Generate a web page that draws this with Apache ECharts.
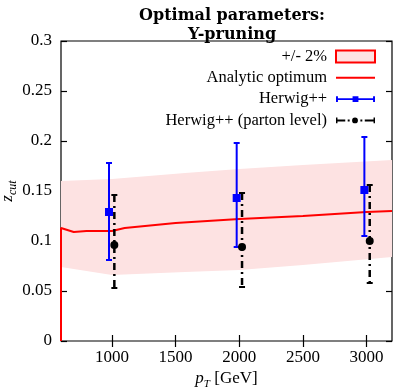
<!DOCTYPE html>
<html>
<head>
<meta charset="utf-8">
<script src="https://cdn.jsdelivr.net/npm/echarts@6/dist/echarts.min.js"></script>
<style>
  html, body { margin: 0; padding: 0; background: #fff; }
  #chart { width: 394px; height: 387px; }
</style>
</head>
<body>
<div id="chart"></div>
<script>
const SERIF = '"Liberation Serif", "DejaVu Serif", serif';

// axis ticks
const xTickValues = [1000, 1500, 2000, 2500, 3000];
const yTickValues = [0, 0.05, 0.1, 0.15, 0.2, 0.25, 0.3];
const yTickLabels = ['0', '0.05', '0.1', '0.15', '0.2', '0.25', '0.3'];

// +/- 2% band
const bandPt = [600, 1000, 1575, 2000, 2500, 3200];
const bandLower = [0.074, 0.066, 0.069, 0.071, 0.076, 0.084];
const bandUpper = [0.160, 0.162, 0.168, 0.172, 0.176, 0.181];

// analytic optimum
const analyticPt = [600, 600, 700, 800, 1000, 1100, 1500, 2000, 2500, 3000, 3200];
const analyticZ = [0, 0.113, 0.109, 0.110, 0.110, 0.113, 0.118, 0.122, 0.125, 0.129, 0.130];

// Herwig++
const hwPt = [977, 1980, 2983];
const hwZ = [0.129, 0.143, 0.151];
const hwLow = [0.081, 0.094, 0.105];
const hwHigh = [0.178, 0.198, 0.204];

// Herwig++ (parton level)
const partonPt = [1019, 2022, 3025];
const partonZ = [0.096, 0.094, 0.100];
const partonLow = [0.053, 0.054, 0.058];
const partonHigh = [0.146, 0.148, 0.156];

function brokenLine(xs, ys) {
  // isolated points, so no connecting line is drawn
  const out = [];
  xs.forEach((x, i) => {
    if (i > 0) out.push([(xs[i - 1] + x) / 2, '-']);
    out.push([x, ys[i]]);
  });
  return out;
}

function errorBars(color, width, dash) {
  return function (params, api) {
    const x = api.value(0);
    const top = api.coord([x, api.value(2)]);
    const bot = api.coord([x, api.value(1)]);
    const style = { stroke: color, lineWidth: width, lineDash: dash };
    return {
      type: 'group',
      children: [
        { type: 'line', shape: { x1: top[0], y1: top[1], x2: bot[0], y2: bot[1] }, style },
        { type: 'line', shape: { x1: top[0] - 3, y1: top[1], x2: top[0] + 3, y2: top[1] }, style: { stroke: color, lineWidth: 2 } },
        { type: 'line', shape: { x1: bot[0] - 3, y1: bot[1], x2: bot[0] + 3, y2: bot[1] }, style: { stroke: color, lineWidth: 2 } },
      ],
    };
  };
}

function bandPolygon(params, api) {
  if (params.dataIndex !== 0) return null;
  const upper = bandPt.map((x, i) => api.coord([x, bandUpper[i]]));
  const lower = bandPt.map((x, i) => api.coord([x, bandLower[i]])).reverse();
  return {
    type: 'polygon',
    shape: { points: upper.concat(lower) },
    style: { fill: '#fde2e2' },
  };
}

const axisText = { color: '#000', fontFamily: SERIF, fontSize: 17 };

const option = {
  animation: false,
  backgroundColor: '#fff',
  title: {
    text: 'Optimal parameters:\nY-pruning',
    left: 227,
    top: 1,
    textAlign: 'center',
    textStyle: { fontFamily: '"DejaVu Serif", serif', fontWeight: 'bold', fontSize: 16, lineHeight: 19, color: '#000' },
  },
  grid: {
    left: 61,
    right: 2,
    top: 41,
    bottom: 46,
    containLabel: false,
    outerBoundsMode: 'none',
    show: true,
    borderColor: '#000',
    borderWidth: 1.2,
    backgroundColor: 'transparent',
  },
  legend: {
    orient: 'vertical',
    right: 18,
    top: 48,
    padding: 0,
    align: 'right',
    itemWidth: 39,
    itemHeight: 12,
    itemGap: 4.3,
    symbolKeepAspect: true,
    textStyle: { fontFamily: SERIF, fontSize: 16.5, color: '#000', padding: [0, 4, 0, 0] },
    data: [
      { name: '+/- 2%', icon: 'rect', itemStyle: { color: '#fde2e2', borderColor: '#ff0000', borderWidth: 2 } },
      { name: 'Analytic optimum', icon: 'path://M0,0h40v2h-40z', itemStyle: { color: '#ff0000', borderWidth: 0 } },
      {
        name: 'Herwig++',
        icon: 'path://M0,0h2v6h-2z M2,2h36v2h-36z M38,0h2v6h-2z M17,0h6v6h-6z',
        itemStyle: { color: '#0000ff', borderWidth: 0 },
      },
      {
        name: 'Herwig++ (parton level)',
        icon: 'path://M0,0h1.5v6h-1.5z M1.5,2h8v2h-8z M12,2h2v2h-2z M16.5,3a3,3 0 1,0 6,0a3,3 0 1,0 -6,0z M25,2h2v2h-2z M29.5,2h9v2h-9z M38.5,0h1.5v6h-1.5z',
        itemStyle: { color: '#000', borderWidth: 0 },
      },
    ],
  },
  xAxis: [
    {
      type: 'value',
      min: 600,
      max: 3200,
      name: '{p|p}{t|T} [GeV]',
      nameLocation: 'middle',
      nameGap: 27,
      nameMoveOverlap: false,
      nameTextStyle: {
        fontFamily: SERIF,
        fontSize: 17,
        color: '#000',
        lineHeight: 22,
        rich: {
          p: { fontFamily: SERIF, fontStyle: 'italic', fontSize: 17, lineHeight: 22, color: '#000' },
          t: { fontFamily: SERIF, fontStyle: 'italic', fontSize: 11, lineHeight: 12, verticalAlign: 'bottom', color: '#000' },
        },
      },
      axisLine: { show: false },
      axisTick: { inside: true, length: 6, customValues: xTickValues, lineStyle: { color: '#000', width: 1.2 } },
      axisLabel: { customValues: xTickValues, margin: 8, formatter: (v) => String(v), ...axisText },
      splitLine: { show: false },
    },
    {
      type: 'value',
      min: 600,
      max: 3200,
      position: 'top',
      axisLine: { show: false },
      axisTick: { inside: true, length: 6, customValues: xTickValues, lineStyle: { color: '#000', width: 1.2 } },
      axisLabel: { show: false },
      splitLine: { show: false },
    },
  ],
  yAxis: [
    {
      type: 'value',
      min: 0,
      max: 0.3,
      name: '{z|z}{c|cut}',
      nameLocation: 'middle',
      nameRotate: 90,
      nameGap: 42,
      nameMoveOverlap: false,
      nameTextStyle: {
        lineHeight: 22,
        rich: {
          z: { fontFamily: SERIF, fontStyle: 'italic', fontSize: 17, lineHeight: 22, color: '#000' },
          c: { fontFamily: SERIF, fontStyle: 'italic', fontSize: 12, lineHeight: 12, verticalAlign: 'bottom', color: '#000' },
        },
      },
      axisLine: { show: false },
      axisTick: { inside: true, length: 6, customValues: yTickValues, lineStyle: { color: '#000', width: 1.2 } },
      axisLabel: {
        customValues: yTickValues,
        margin: 9,
        formatter: (v) => yTickLabels[yTickValues.findIndex((t) => Math.abs(t - v) < 1e-9)],
        ...axisText,
      },
      splitLine: { show: false },
    },
    {
      type: 'value',
      min: 0,
      max: 0.3,
      position: 'right',
      axisLine: { show: false },
      axisTick: { inside: true, length: 6, customValues: yTickValues, lineStyle: { color: '#000', width: 1.2 } },
      axisLabel: { show: false },
      splitLine: { show: false },
    },
  ],
  series: [
    {
      name: '+/- 2%',
      type: 'custom',
      data: bandPt.map((x, i) => [x, bandLower[i], bandUpper[i]]),
      renderItem: bandPolygon,
      itemStyle: { color: '#fde2e2' },
      silent: true,
      z: 1,
    },
    {
      name: 'Analytic optimum',
      type: 'line',
      data: analyticPt.map((x, i) => [x, analyticZ[i]]),
      symbol: 'none',
      lineStyle: { color: '#ff0000', width: 2 },
      itemStyle: { color: '#ff0000' },
      z: 3,
    },
    {
      name: 'hwBars',
      type: 'custom',
      data: hwPt.map((x, i) => [x, hwLow[i], hwHigh[i]]),
      renderItem: errorBars('#0000ff', 2, null),
      z: 4,
    },
    {
      name: 'partonBars',
      type: 'custom',
      data: partonPt.map((x, i) => [x, partonLow[i], partonHigh[i]]),
      renderItem: errorBars('#000', 2.5, [7, 4, 2, 4]),
      z: 4,
    },
    {
      name: 'Herwig++',
      type: 'line',
      data: brokenLine(hwPt, hwZ),
      symbol: 'rect',
      symbolSize: 8,
      showSymbol: true,
      lineStyle: { color: '#0000ff', width: 2 },
      itemStyle: { color: '#0000ff' },
      z: 5,
    },
    {
      name: 'Herwig++ (parton level)',
      type: 'line',
      data: brokenLine(partonPt, partonZ),
      symbol: 'circle',
      symbolSize: 8,
      showSymbol: true,
      lineStyle: { color: '#000', width: 2 },
      itemStyle: { color: '#000' },
      z: 5,
    },
  ],
};

const chart = echarts.init(document.getElementById('chart'), null, { renderer: 'canvas' });
chart.setOption(option);
</script>
</body>
</html>
